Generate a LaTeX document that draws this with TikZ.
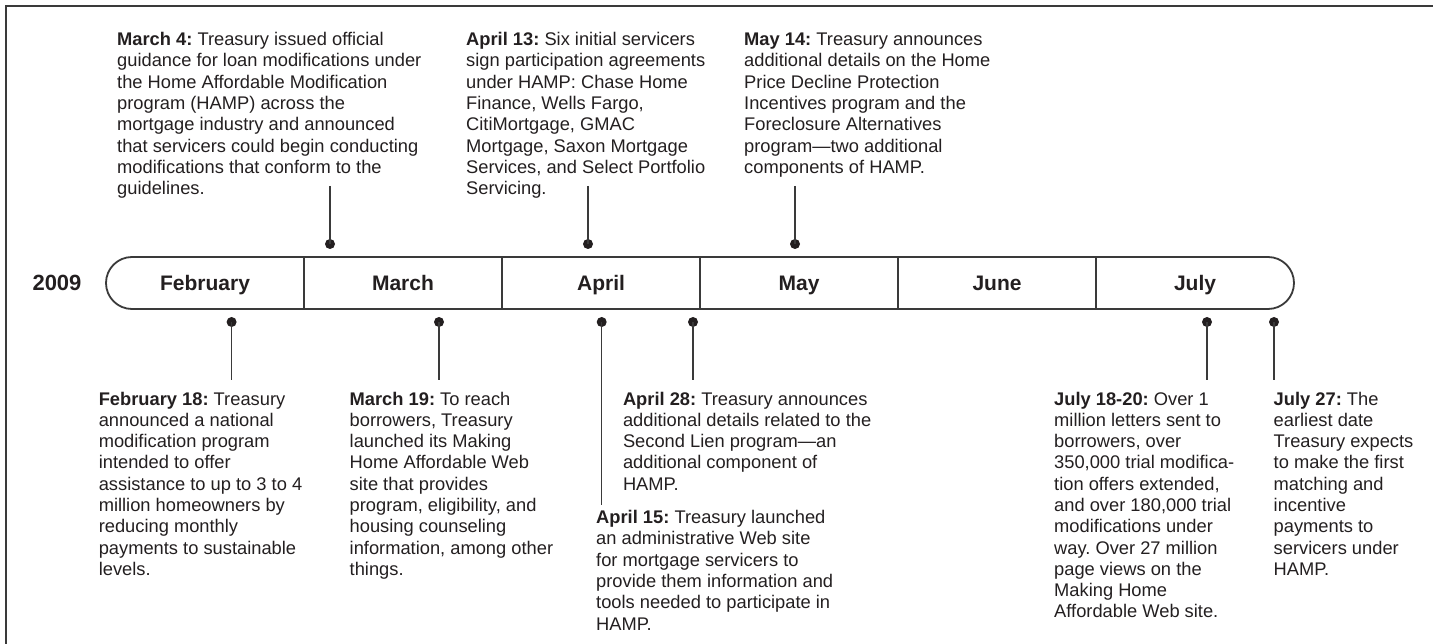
\documentclass[tikz,border=0pt]{standalone}
\usepackage{fontspec}
\setmainfont{Liberation Sans}
\frenchspacing
\definecolor{ink}{HTML}{231F20}
\definecolor{rule}{HTML}{3A3A3A}
\newcommand\evlines[1]{\begin{tabular}[t]{@{}l@{}}#1\end{tabular}}
\begin{document}
\begin{tikzpicture}[x=1pt,y=-1pt,
  evt/.style={anchor=base west, inner sep=0pt, text=ink, font=\fontsize{18.3}{21.3}\selectfont},
  month/.style={anchor=base, inner sep=0pt, text=ink, font=\fontsize{21}{25}\selectfont\bfseries},
  dot/.style={circle, fill=ink, draw=none, inner sep=0pt, minimum size=10pt},
  conn/.style={line width=1.3pt, draw=rule},
  barline/.style={line width=1.8pt, draw=rule},
  frame/.style={line width=2pt, draw=rule}]
\useasboundingbox (0,0) rectangle (1433,644);
% frame (top and left only)
\draw[frame] (1433,6) -- (6,6) -- (6,644);
% year
\node[month, font=\fontsize{22}{26}\selectfont\bfseries] (year) at (57,290.7) {2009};
% bar
\draw[barline] (132,257) -- (1268,257) arc[start angle=-90, end angle=90, radius=26]
  -- (132,309) arc[start angle=90, end angle=270, radius=26] -- cycle;
\foreach \x in {304,502,700,898,1096} \draw[line width=1.3pt, draw=rule] (\x,257) -- (\x,309);
\node[month] (feb) at (205,290.7) {February};
\node[month] (mar) at (403,290.7) {March};
\node[month] (apr) at (601,290.7) {April};
\node[month] (may) at (799,290.7) {May};
\node[month] (jun) at (997,290.7) {June};
\node[month] (jul) at (1195,290.7) {July};
% top events
\node[evt] (m4) at (117,45.7) {\evlines{\textbf{March 4:} Treasury issued official\\
guidance for loan modifications under\\
the Home Affordable Modification\\
program (HAMP) across the\\
mortgage industry and announced\\
that servicers could begin conducting\\
modifications that conform to the\\
guidelines.}};
\node[evt] (a13) at (466,45.7) {\evlines{\textbf{April 13:} Six initial servicers\\
sign participation agreements\\
under HAMP: Chase Home\\
Finance, Wells Fargo,\\
CitiMortgage, GMAC\\
Mortgage, Saxon Mortgage\\
Services, and Select Portfolio\\
Servicing.}};
\node[evt] (m14) at (744,45.7) {\evlines{\textbf{May 14:} Treasury announces\\
additional details on the Home\\
Price Decline Protection\\
Incentives program and the\\
Foreclosure Alternatives\\
program—two additional\\
components of HAMP.}};
% bottom events
\node[evt] (f18) at (98.6,405) {\evlines{\textbf{February 18:} Treasury\\
announced a national\\
modification program\\
intended to offer\\
assistance to up to 3 to 4\\
million homeowners by\\
reducing monthly\\
payments to sustainable\\
levels.}};
\node[evt] (m19) at (349.5,405) {\evlines{\textbf{March 19:} To reach\\
borrowers, Treasury\\
launched its Making\\
Home Affordable Web\\
site that provides\\
program, eligibility, and\\
housing counseling\\
information, among other\\
things.}};
\node[evt] (a28) at (622.8,405) {\evlines{\textbf{April 28:} Treasury announces\\
additional details related to the\\
Second Lien program—an\\
additional component of\\
HAMP.}};
\node[evt] (a15) at (596,523.5) {\evlines{\textbf{April 15:} Treasury launched\\
an administrative Web site\\
for mortgage servicers to\\
provide them information and\\
tools needed to participate in\\
HAMP.}};
\node[evt] (j18) at (1054,405) {\evlines{\textbf{July 18-20:} Over 1\\
million letters sent to\\
borrowers, over\\
350,000 trial modifica-\\
tion offers extended,\\
and over 180,000 trial\\
modifications under\\
way. Over 27 million\\
page views on the\\
Making Home\\
Affordable Web site.}};
\node[evt] (j27) at (1273.5,405) {\evlines{\textbf{July 27:} The\\
earliest date\\
Treasury expects\\
to make the first\\
matching and\\
incentive\\
payments to\\
servicers under\\
HAMP.}};
% top dots and connectors
\node[dot] (dm4) at (330,244) {};
\node[dot] (da13) at (588,244) {};
\node[dot] (dm14) at (795,244) {};
\coordinate (em4) at (330,186);
\coordinate (ea13) at (588,186);
\coordinate (em14) at (795,186);
\draw[conn] (em4) -- (dm4.center);
\draw[conn] (ea13) -- (da13.center);
\draw[conn] (em14) -- (dm14.center);
% bottom dots and connectors
\node[dot] (df18) at (231.6,322) {};
\node[dot] (dm19) at (439,322) {};
\node[dot] (da15) at (601.7,322) {};
\node[dot] (da28) at (693,322) {};
\node[dot] (dj18) at (1207,322) {};
\node[dot] (dj27) at (1274,322) {};
\coordinate (ef18) at (231.6,380);
\coordinate (em19) at (439,380);
\coordinate (ea15) at (601.7,505);
\coordinate (ea28) at (693,380);
\coordinate (ej18) at (1207,380);
\coordinate (ej27) at (1274,380);
\draw[conn] (df18.center) -- (ef18);
\draw[conn] (dm19.center) -- (em19);
\draw[conn] (da15.center) -- (ea15);
\draw[conn] (da28.center) -- (ea28);
\draw[conn] (dj18.center) -- (ej18);
\draw[conn] (dj27.center) -- (ej27);
\end{tikzpicture}
\end{document}
